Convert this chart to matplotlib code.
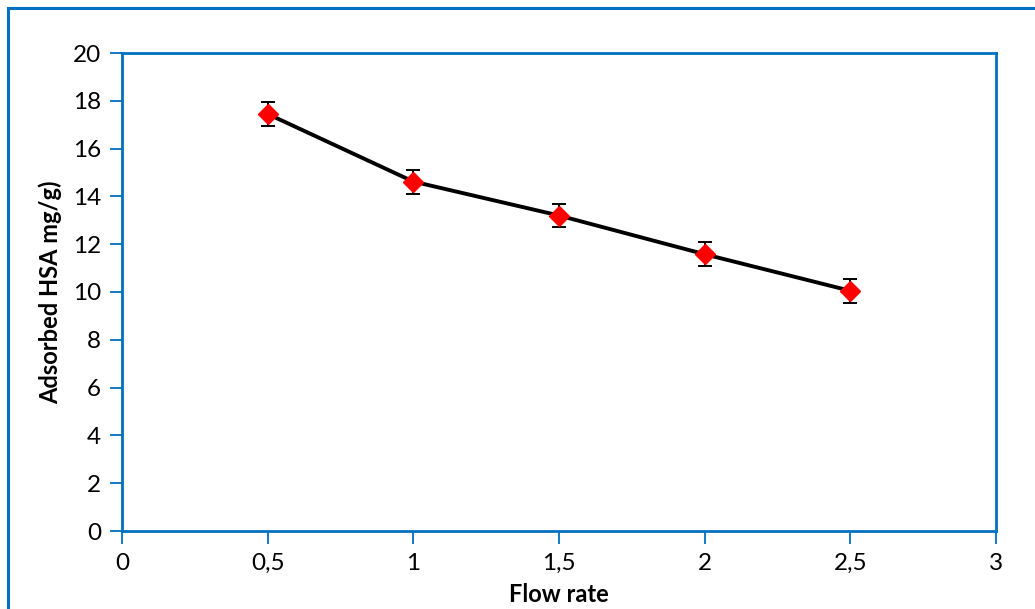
import matplotlib
matplotlib.use("Agg")
import matplotlib.pyplot as plt
from matplotlib.patches import Rectangle

# Adsorption of HSA versus flow rate
flow_rate = [0.5, 1.0, 1.5, 2.0, 2.5]
adsorbed = [17.45, 14.62, 13.2, 11.58, 10.05]
errors = [0.5, 0.5, 0.5, 0.5, 0.5]

x_ticks = [0, 0.5, 1, 1.5, 2, 2.5, 3]
x_tick_labels = ["0", "0,5", "1", "1,5", "2", "2,5", "3"]
y_ticks = [0, 2, 4, 6, 8, 10, 12, 14, 16, 18, 20]

blue = "#0070C0"
plt.rcParams["font.family"] = ["Lato", "DejaVu Sans"]

fig = plt.figure(figsize=(10.35, 6.09), dpi=100)
ax = fig.add_axes([122 / 1035, 1 - 531 / 609, (996 - 122) / 1035, (531 - 53) / 609])

# chart-area frame (top and left edges visible)
fig.patches.append(Rectangle((8 / 1035, -0.1), 1.2, 1.1 - 8 / 609,
                             transform=fig.transFigure, fill=False,
                             edgecolor=blue, linewidth=2.2, zorder=0))

ax.errorbar(flow_rate, adsorbed, yerr=errors, color="black", linewidth=2.8,
            ecolor="black", elinewidth=1.4, capsize=5, capthick=1.4,
            marker="D", markersize=10, markerfacecolor="red",
            markeredgecolor="red", zorder=3)

ax.set_xlim(0, 3)
ax.set_ylim(0, 20)
ax.set_xticks(x_ticks)
ax.set_xticklabels(x_tick_labels)
ax.set_yticks(y_ticks)

for s in ax.spines.values():
    s.set_color(blue)
    s.set_linewidth(2.0)

ax.tick_params(axis="both", direction="out", length=9, width=1.3,
               color=blue, labelsize=17.5, labelcolor="black")
ax.tick_params(axis="x", pad=7)
ax.tick_params(axis="y", pad=6)

ax.set_xlabel("Flow rate", fontsize=17, fontweight="bold", labelpad=6)
ax.set_ylabel("Adsorbed HSA mg/g)", fontsize=17, fontweight="bold", labelpad=8)

fig.savefig("out.png", dpi=100)
